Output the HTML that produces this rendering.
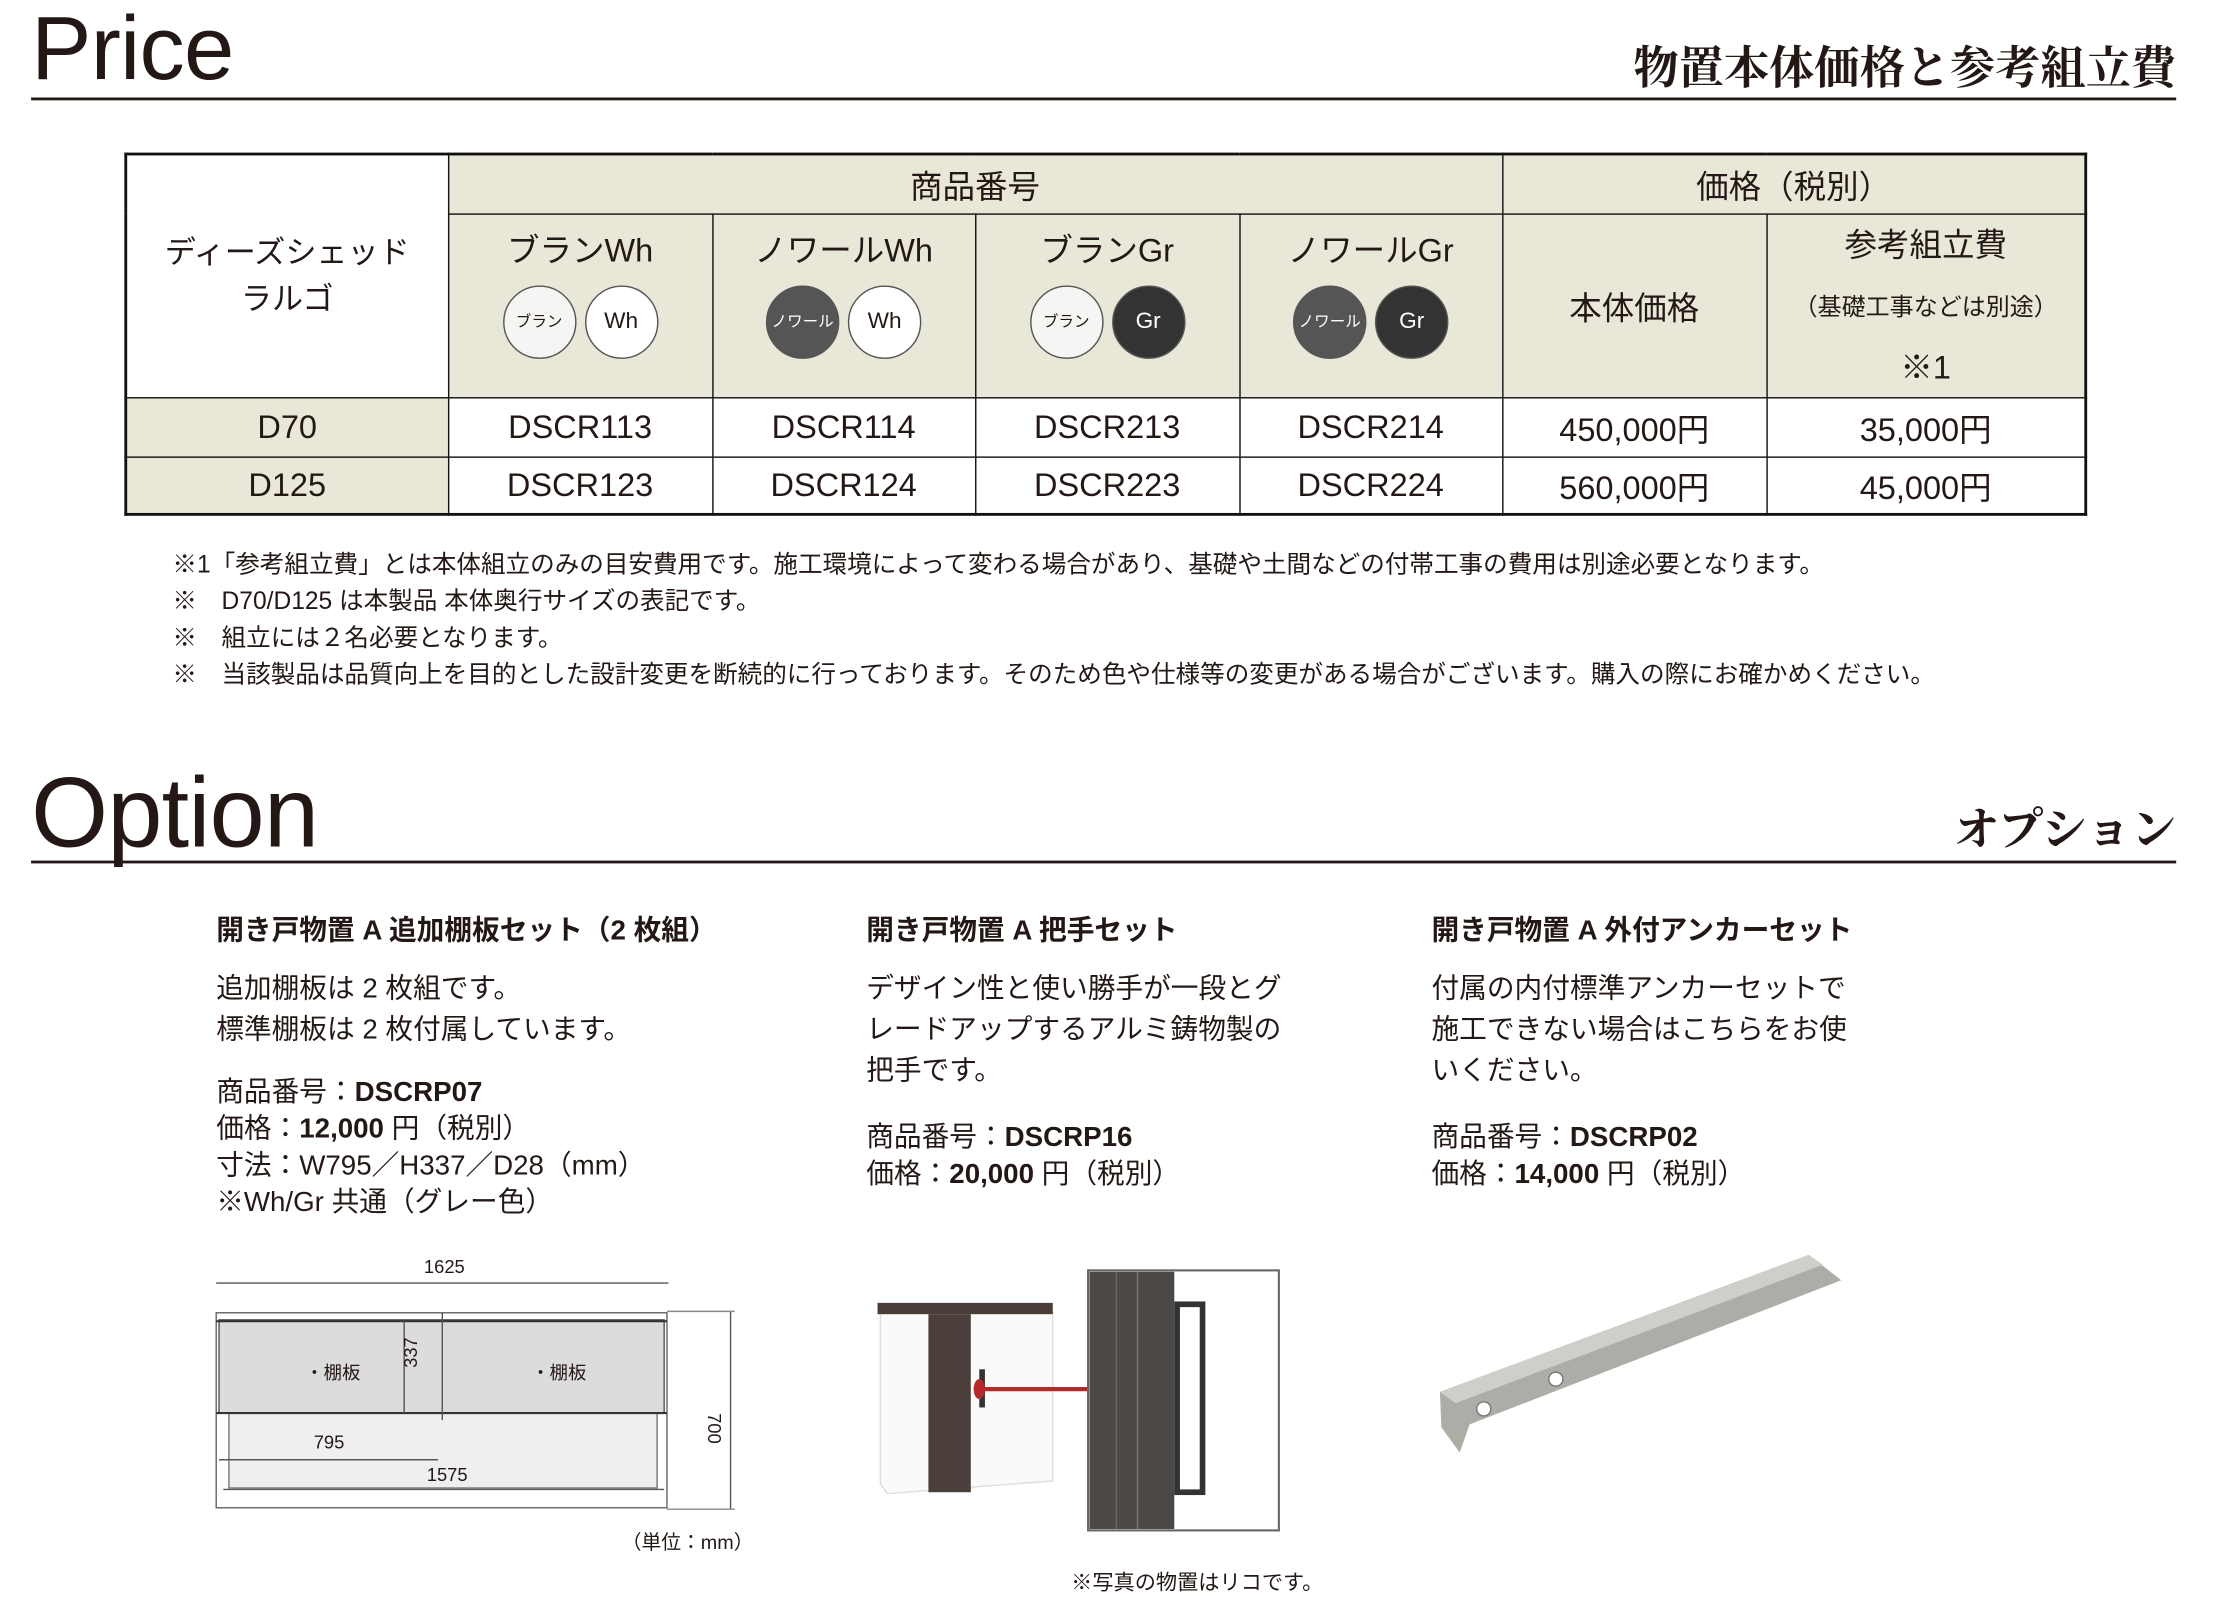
<!DOCTYPE html>
<html><head><meta charset="utf-8">
<style>
html,body{margin:0;padding:0;background:#fff;}
body{width:2216px;height:1616px;overflow:hidden;position:relative;}
#w{position:absolute;left:0;top:0;width:1570px;height:1145px;transform:scale(1.4131);transform-origin:0 0;font-family:"Liberation Sans","Noto Sans CJK JP",sans-serif;color:#231815;}
.a{position:absolute;white-space:nowrap;}
.big{font-size:64px;line-height:64px;letter-spacing:-0.5px;}
.serif{font-family:"Liberation Serif","Noto Serif CJK JP",serif;font-size:32px;font-weight:bold;}
.hl{position:absolute;left:22px;width:1518px;height:2px;background:#231815;}
table{position:absolute;left:88px;top:108px;border-collapse:collapse;table-layout:fixed;}
td{border:1.5px solid #111;text-align:center;font-size:23px;padding:0;}
.bg{background:#e8e7d8;}
.ci{display:inline-block;width:52px;height:52px;border-radius:50%;border:1px solid #555;box-sizing:border-box;line-height:50px;font-size:16px;margin:0 3px;vertical-align:middle;}
.sm{font-size:11px !important;}
.n{font-size:17.4px;left:122px;}
.t{font-size:19.6px;line-height:29px;}
.b{font-weight:bold;}
.hd{vertical-align:top;padding-top:6px;}
</style></head><body><div id="w">
<div class="a big" style="left:22px;top:2px;">Price</div>
<div class="a serif" style="right:30px;top:23px;">物置本体価格と参考組立費</div>
<div class="hl" style="top:69px;"></div>

<table style="border:2.5px solid #111;">
<colgroup><col style="width:228px"><col style="width:187px"><col style="width:186px"><col style="width:187px"><col style="width:186px"><col style="width:187px"><col style="width:226px"></colgroup>
<tr style="height:42px"><td rowspan="2" style="line-height:33px;font-size:22px;">ディーズシェッド<br>ラルゴ</td><td colspan="4" class="bg">商品番号</td><td colspan="2" class="bg">価格（税別）</td></tr>
<tr style="height:124px">
<td class="bg hd"><div style="margin-bottom:10px">ブランWh</div><span class="ci sm" style="background:#f5f5f3">ブラン</span><span class="ci" style="background:#fff">Wh</span></td>
<td class="bg hd"><div style="margin-bottom:10px">ノワールWh</div><span class="ci sm" style="background:#555;color:#fff">ノワール</span><span class="ci" style="background:#fff">Wh</span></td>
<td class="bg hd"><div style="margin-bottom:10px">ブランGr</div><span class="ci sm" style="background:#f5f5f3">ブラン</span><span class="ci" style="background:#333;color:#fff">Gr</span></td>
<td class="bg hd"><div style="margin-bottom:10px">ノワールGr</div><span class="ci sm" style="background:#555;color:#fff">ノワール</span><span class="ci" style="background:#333;color:#fff">Gr</span></td>
<td class="bg">本体価格</td>
<td class="bg" style="line-height:42px">参考組立費<br><span style="font-size:17px">（基礎工事などは別途）</span><br>※1</td></tr>
<tr style="height:42px"><td class="bg">D70</td><td>DSCR113</td><td>DSCR114</td><td>DSCR213</td><td>DSCR214</td><td>450,000円</td><td>35,000円</td></tr>
<tr style="height:41px"><td class="bg">D125</td><td>DSCR123</td><td>DSCR124</td><td>DSCR223</td><td>DSCR224</td><td>560,000円</td><td>45,000円</td></tr>
</table>

<div class="a n" style="top:386px;">※1「参考組立費」とは本体組立のみの目安費用です。施工環境によって変わる場合があり、基礎や土間などの付帯工事の費用は別途必要となります。</div>
<div class="a n" style="top:412px;">※　D70/D125 は本製品 本体奥行サイズの表記です。</div>
<div class="a n" style="top:438px;">※　組立には２名必要となります。</div>
<div class="a n" style="top:464px;">※　当該製品は品質向上を目的とした設計変更を断続的に行っております。そのため色や仕様等の変更がある場合がございます。購入の際にお確かめください。</div>

<div class="a big" style="left:22px;top:540px;font-size:70px;line-height:70px;">Option</div>
<div class="a serif" style="right:30px;top:562px;">オプション</div>
<div class="hl" style="top:609px;"></div>

<div class="a t b" style="left:153px;top:645px;">開き戸物置 A 追加棚板セット（2 枚組）</div>
<div class="a t" style="left:153px;top:686px;">追加棚板は 2 枚組です。<br>標準棚板は 2 枚付属しています。</div>
<div class="a t" style="left:153px;top:760px;line-height:26px;">商品番号：<b>DSCRP07</b><br>価格：<b>12,000</b> 円（税別）<br>寸法：W795／H337／D28（mm）<br>※Wh/Gr 共通（グレー色）</div>

<div class="a t b" style="left:613px;top:645px;">開き戸物置 A 把手セット</div>
<div class="a t" style="left:613px;top:686px;">デザイン性と使い勝手が一段とグ<br>レードアップするアルミ鋳物製の<br>把手です。</div>
<div class="a t" style="left:613px;top:792px;line-height:26px;">商品番号：<b>DSCRP16</b><br>価格：<b>20,000</b> 円（税別）</div>

<div class="a t b" style="left:1013px;top:645px;">開き戸物置 A 外付アンカーセット</div>
<div class="a t" style="left:1013px;top:686px;">付属の内付標準アンカーセットで<br>施工できない場合はこちらをお使<br>いください。</div>
<div class="a t" style="left:1013px;top:792px;line-height:26px;">商品番号：<b>DSCRP02</b><br>価格：<b>14,000</b> 円（税別）</div>

<svg class="a" style="left:0;top:0" width="1570" height="1145" viewBox="0 0 1570 1145">
<g font-family="Liberation Sans,Noto Sans CJK JP,sans-serif" font-size="13" fill="#231815">
<text x="300" y="901">1625</text>
<line x1="153" y1="908" x2="473" y2="908" stroke="#555"/>
<rect x="153" y="929" width="319" height="138" fill="#fff" stroke="#666"/>
<rect x="155" y="934" width="315" height="66" fill="#dcdcdc" stroke="#555"/>
<rect x="162" y="1000" width="303" height="53" fill="#efefef" stroke="#777"/>
<line x1="153" y1="935" x2="472" y2="935" stroke="#333" stroke-width="1.5"/>
<line x1="153" y1="1000" x2="472" y2="1000" stroke="#333" stroke-width="1.5"/>
<line x1="313" y1="929" x2="313" y2="1005" stroke="#555"/>
<line x1="286" y1="935" x2="286" y2="1000" stroke="#555"/>
<text x="216" y="976">・棚板</text><text x="376" y="976">・棚板</text>
<text x="283" y="980" transform="rotate(-90 283 968)">337</text>
<text x="222" y="1025">795</text>
<line x1="155" y1="1033" x2="310" y2="1033" stroke="#555"/>
<text x="302" y="1048">1575</text>
<line x1="158" y1="1054" x2="470" y2="1054" stroke="#555"/>
<line x1="517" y1="928" x2="517" y2="1068" stroke="#555"/>
<line x1="472" y1="928" x2="520" y2="928" stroke="#888"/>
<line x1="472" y1="1068" x2="520" y2="1068" stroke="#888"/>
<text x="513" y="1012" transform="rotate(90 513 1000)">700</text>
<text x="440" y="1096" font-size="14">（単位：mm）</text>
<text x="758" y="1125" font-size="15">※写真の物置はリコです。</text>
</g>
<polygon points="623,928 745,928 745,1048 628,1057 623,1050" fill="#fafaf8" stroke="#ddd"/>
<rect x="621" y="922" width="124" height="8" fill="#4a3c37"/>
<rect x="657" y="930" width="30" height="126" fill="#4a3f3b"/>
<rect x="693" y="969" width="4" height="27" fill="#333"/>
<line x1="690" y1="983" x2="792" y2="983" stroke="#b52a2a" stroke-width="3"/>
<ellipse cx="693" cy="983" rx="4" ry="7" fill="#b52a2a"/>
<rect x="770" y="899" width="135" height="184" fill="#fff" stroke="#666" stroke-width="1.5"/>
<rect x="771" y="900" width="60" height="182" fill="#4b4845"/>
<line x1="790" y1="900" x2="790" y2="1082" stroke="#6a6664"/>
<line x1="805" y1="900" x2="805" y2="1082" stroke="#777"/>
<rect x="833" y="923" width="18" height="133" fill="none" stroke="#333" stroke-width="4"/>
<polygon points="1019,985 1280,888 1303,906 1040,1008 1033,1028 1020,1010" fill="#aeaca6"/>
<polygon points="1019,985 1280,888 1290,895 1030,993" fill="#d0cec8"/>
<circle cx="1050" cy="997" r="5" fill="#fff" stroke="#777"/>
<circle cx="1101" cy="976" r="5" fill="#fff" stroke="#777"/>
</svg>
</div></body></html>
